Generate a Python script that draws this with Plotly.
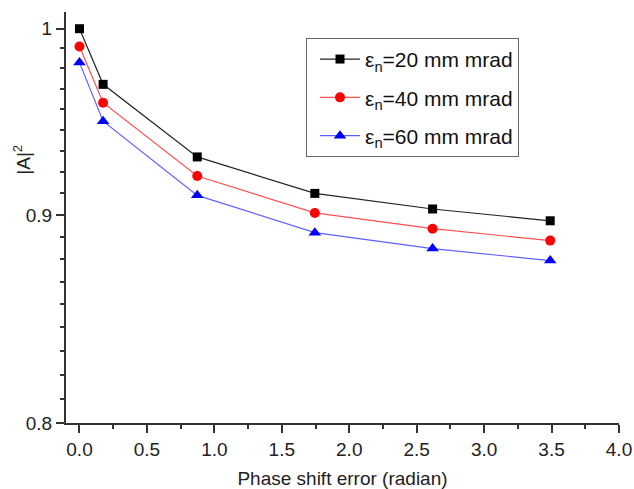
import math
import plotly.graph_objects as go

phase = [0.0, 0.175, 0.873, 1.745, 2.618, 3.49]
a20 = [1.000, 0.969, 0.930, 0.911, 0.903, 0.897]
a40 = [0.990, 0.959, 0.920, 0.901, 0.893, 0.887]
a60 = [0.981, 0.949, 0.910, 0.891, 0.883, 0.877]
names = ["ε<sub>n</sub>=20 mm mrad", "ε<sub>n</sub>=40 mm mrad", "ε<sub>n</sub>=60 mm mrad"]
y_major = [0.8, 0.9, 1.0]
y_major_text = ["0.8", "0.9", "1"]
x_major = [0.0, 0.5, 1.0, 1.5, 2.0, 2.5, 3.0, 3.5, 4.0]
x_title = "Phase shift error (radian)"
y_title = "|A|<sup>2</sup>"

series = [
    (a20, names[0], "black", "square", 9),
    (a40, names[1], "red", "circle", 10),
    (a60, names[2], "blue", "triangle-up", 11),
]

fig = go.Figure()
for i, (vals, name, col, sym, sz) in enumerate(series):
    lc = {"black": "#222222", "red": "#ff5050", "blue": "#6060ff"}[col]
    fig.add_trace(go.Scatter(
        x=phase, y=vals, name=name, mode="lines+markers",
        line=dict(color=lc, width=1.2),
        marker=dict(color=col, symbol=sym, size=sz),
        legendgroup=f"g{i}",
    ))

# minor ticks: 8 between majors (linear spacing in value)
y_minor = []
for lo, hi in [(0.8, 0.9), (0.9, 1.0)]:
    for k in range(1, 9):
        y_minor.append(lo + (hi - lo) * k / 9)

font = "Arial, Liberation Sans, sans-serif"
fig.update_layout(
    width=634, height=489,
    margin=dict(l=66, r=15, t=12, b=66),
    paper_bgcolor="white", plot_bgcolor="white",
    font=dict(family=font, size=19, color="#222222"),
    showlegend=True,
    legend=dict(
        x=0.434, y=0.937, xanchor="left", yanchor="top",
        bordercolor="#666666", borderwidth=1, bgcolor="white",
        font=dict(size=21, color="#111111"),
        tracegroupgap=8, indentation=8, itemwidth=40,
    ),
    xaxis=dict(
        range=[-0.1, 4.0], tickvals=x_major, automargin=False,
        tickformat=".1f",
        showline=True, linecolor="#333333", linewidth=2,
        ticks="outside", ticklen=8, tickwidth=2, tickcolor="#333333",
        minor=dict(dtick=0.25, ticks="outside", ticklen=4, tickwidth=2, tickcolor="#333333"),
        showgrid=False, zeroline=False,
        title=dict(text=x_title, standoff=15, font=dict(size=19)),
    ),
    yaxis=dict(
        type="log", automargin=False,
        range=[math.log10(0.8), math.log10(1.0095)],
        tickvals=y_major, ticktext=y_major_text,
        showline=True, linecolor="#333333", linewidth=2,
        ticks="outside", ticklen=8, tickwidth=2, tickcolor="#333333",
        minor=dict(tickmode="array", tickvals=y_minor, ticks="outside", ticklen=4, tickwidth=2, tickcolor="#333333"),
        showgrid=False, zeroline=False,
    ),
    annotations=[dict(
        text=y_title, textangle=-90, xref="paper", yref="paper",
        x=-0.08, y=0.64, xanchor="center", yanchor="middle",
        showarrow=False, font=dict(size=19, color="#222222"),
    )],
)

fig.write_html(
    "out.html",
    config={"displayModeBar": False},
    post_script="document.body.style.margin='0';document.body.style.overflow='hidden';",
)
